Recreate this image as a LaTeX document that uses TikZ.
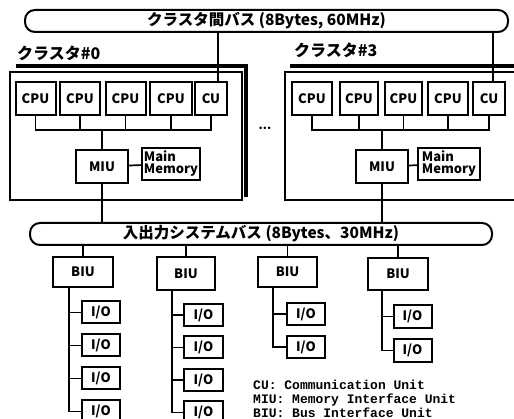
\documentclass[tikz,border=0pt]{standalone}
\usepackage{fontspec}
\setmainfont{Noto Sans CJK JP}
\newfontfamily\legendfont{Liberation Mono}
\usetikzlibrary{positioning}

\begin{document}
\begin{tikzpicture}[
    x=1pt, y=-1pt,
    node distance=9pt,
    box/.style={rectangle, draw, line width=2pt, inner sep=0pt,
                minimum width=40pt, minimum height=33pt,
                font=\fontsize{13}{15}\selectfont\bfseries},
    io/.style={box, minimum width=38pt, minimum height=22pt},
    bus/.style={rectangle, draw, line width=2pt, rounded corners=10pt,
                minimum height=22pt, inner sep=0pt,
                font=\fontsize{15.5}{17}\selectfont\bfseries},
    wire/.style={line width=1.7pt},
    frame/.style={line width=1.3pt},
    shade/.style={line width=4.5pt},
    title/.style={font=\fontsize{16}{18}\selectfont\bfseries, inner sep=0pt}
]
  \clip (0,0) rectangle (514,419);

  % Top: inter-cluster bus
  \node[bus, minimum width=483pt] (sysbus) at (266.5,21)
    {クラスタ間バス (8Bytes, 60MHz)};

  % Cluster frames with shadow edge
  \draw[frame] (10,72) rectangle (242,200);
  \draw[shade] (16,66) -- (246,66) -- (246,197);
  \draw[frame] (530,72) -- (285,72) -- (285,200) -- (530,200);
  \draw[shade] (290,66) -- (530,66);

  \node[title, anchor=west] (lab0) at (17,53) {クラスタ\#0};
  \node[title, anchor=west] (lab3) at (294,50) {クラスタ\#3};

  % Cluster #0
  \node[box] (c0p1) at (35.5,98.5) {CPU};
  \node[box] (c0p2) at (80,98.5) {CPU};
  \node[box] (c0p3) at (125.5,98.5) {CPU};
  \node[box, minimum width=42pt] (c0p4) at (171,98.5) {CPU};
  \node[box, minimum width=32pt] (c0cu) at (211,98.5) {CU};
  \node[box, minimum width=52pt] (c0miu) at (102,166.5) {MIU};
  \node[box, minimum width=58pt, minimum height=32pt, align=left] (c0mem) at (171,164)
    {Main\\[-3pt]Memory};

  % Cluster #3
  \node[box] (c3p1) at (312,98.5) {CPU};
  \node[box, minimum width=38pt] (c3p2) at (359,98.5) {CPU};
  \node[box, minimum width=37pt] (c3p3) at (403.5,98.5) {CPU};
  \node[box] (c3p4) at (448,98.5) {CPU};
  \node[box, minimum width=32pt] (c3cu) at (489,98.5) {CU};
  \node[box, minimum width=52pt] (c3miu) at (382,166.5) {MIU};
  \node[box, minimum width=62pt, minimum height=32pt, align=left] (c3mem) at (449,164)
    {Main\\[-3pt]Memory};

  \node[font=\fontsize{12}{12}\selectfont\bfseries, inner sep=0pt] (dots) at (265,128) {...};

  % Cluster internal buses
  \coordinate (c0bus) at (0,130);
  \draw[wire] (c0p1.south) -- (c0p1 |- c0bus) -- (c0cu |- c0bus) -- (c0cu.south);
  \draw[wire] (c0p2.south) -- (c0p2 |- c0bus);
  \draw[wire] (c0p3.south) -- (c0p3 |- c0bus);
  \draw[wire] (c0p4.south) -- (c0p4 |- c0bus);
  \draw[wire] (c0miu.north) -- (c0miu |- c0bus);
  \draw[wire] (c0miu) -- (c0mem);

  \coordinate (c3bus) at (0,130);
  \draw[wire] (c3p1.south) -- (c3p1 |- c3bus) -- (c3cu |- c3bus) -- (c3cu.south);
  \draw[wire] (c3p2.south) -- (c3p2 |- c3bus);
  \draw[wire] (c3p3.south) -- (c3p3 |- c3bus);
  \draw[wire] (c3p4.south) -- (c3p4 |- c3bus);
  \draw[wire] (c3miu.north) -- (c3miu |- c3bus);
  \draw[wire] (c3miu) -- (c3mem);

  % CU to inter-cluster bus
  \coordinate (cu0top) at ([xshift=7pt]c0cu.north);
  \coordinate (cu3top) at ([xshift=4pt]c3cu.north);
  \draw[wire] (cu0top) -- (cu0top |- sysbus.south);
  \draw[wire] (cu3top) -- (cu3top |- sysbus.south);

  % I/O system bus
  \node[bus, minimum width=462pt] (iobus) at (261,234)
    {入出力システムバス (8Bytes、30MHz)};
  \draw[wire] (c0miu.south) -- (c0miu |- iobus.north);
  \draw[wire] (c3miu.south) -- (c3miu |- iobus.north);

  % BIUs
  \node[box, minimum width=60pt, minimum height=30pt] (biu1) at (83,272) {BIU};
  \node[box, minimum width=58pt] (biu2) at (186,273.5) {BIU};
  \node[box, minimum width=59pt, minimum height=30pt] (biu3) at (287.5,272) {BIU};
  \node[box, minimum width=60pt, minimum height=32pt] (biu4) at (398,274) {BIU};
  \draw[wire] (biu1.north) -- (biu1 |- iobus.south);
  \draw[wire] (biu2.north) -- (biu2 |- iobus.south);
  \draw[wire] (biu3.north) -- (biu3 |- iobus.south);
  \draw[wire] (biu4.north) -- (biu4 |- iobus.south);

  % I/O units
  \node[io] (io11) at (101,312.5) {I/O};
  \node[io, below=of io11] (io12) {I/O};
  \node[io, below=of io12] (io13) {I/O};
  \node[io, below=of io13] (io14) {I/O};

  \node[io, minimum width=39pt] (io21) at (203.5,315) {I/O};
  \node[io, minimum width=39pt, below=8.5pt of io21] (io22) {I/O};
  \node[io, minimum width=39pt, below=8.5pt of io22] (io23) {I/O};
  \node[io, minimum width=39pt, below=8.5pt of io23] (io24) {I/O};

  \node[io] (io31) at (306,314) {I/O};
  \node[io, below=of io31] (io32) {I/O};

  \node[io, minimum height=23pt] (io41) at (412.5,316.5) {I/O};
  \node[io, minimum height=23pt, below=of io41] (io42) {I/O};

  \coordinate (t1) at (69,287);
  \coordinate (t2) at (172,290);
  \coordinate (t3) at (273,287);
  \coordinate (t4) at (382,290);
  \draw[wire] (t1) |- (io14.west);
  \draw[wire] (io11.west) -- (io11.west -| t1);
  \draw[wire] (io12.west) -- (io12.west -| t1);
  \draw[wire] (io13.west) -- (io13.west -| t1);
  \draw[wire] (t2) |- (io24.west);
  \draw[wire] (io21.west) -- (io21.west -| t2);
  \draw[wire] (io22.west) -- (io22.west -| t2);
  \draw[wire] (io23.west) -- (io23.west -| t2);
  \draw[wire] (t3) |- (io32.west);
  \draw[wire] (io31.west) -- (io31.west -| t3);
  \draw[wire] (t4) |- (io42.west);
  \draw[wire] (io41.west) -- (io41.west -| t4);

  % Legend
  \node[anchor=north west, align=left, inner sep=0pt,
        font=\legendfont\bfseries\fontsize{13}{14}\selectfont] (legend) at (253,380)
    {CU: Communication Unit\\MIU: Memory Interface Unit\\BIU: Bus Interface Unit};
\end{tikzpicture}
\end{document}
